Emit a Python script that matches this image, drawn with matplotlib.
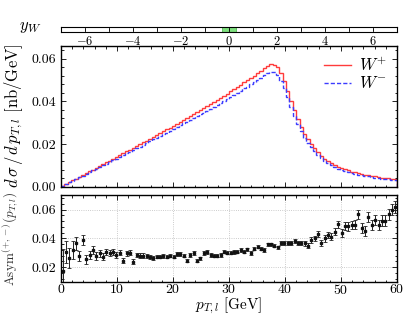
import numpy as np
import matplotlib
matplotlib.use('Agg')
import matplotlib.pyplot as plt
from matplotlib.ticker import MultipleLocator
from matplotlib.patches import Rectangle

plt.rcParams['font.family'] = 'serif'
plt.rcParams['font.serif'] = ['cmr10']
plt.rcParams['mathtext.fontset'] = 'cm'
plt.rcParams['axes.formatter.use_mathtext'] = True

# pT bins: 100 bins of 0.6 GeV from 0 to 60
pt_min, pt_max, n_bins = 0.0, 60.0, 100

# dsigma/dpT for W+ (nb/GeV)
w_plus = [
    0.0004, 0.0013, 0.0021, 0.0030, 0.0038, 0.0047, 0.0055, 0.0063, 0.0072, 0.0080,
    0.0089, 0.0097, 0.0106, 0.0114, 0.0122, 0.0131, 0.0139, 0.0148, 0.0156, 0.0165,
    0.0173, 0.0182, 0.0190, 0.0199, 0.0208, 0.0216, 0.0225, 0.0234, 0.0242, 0.0251,
    0.0260, 0.0268, 0.0277, 0.0286, 0.0295, 0.0304, 0.0313, 0.0322, 0.0331, 0.0340,
    0.0349, 0.0358, 0.0367, 0.0377, 0.0386, 0.0396, 0.0406, 0.0416, 0.0426, 0.0436,
    0.0446, 0.0456, 0.0467, 0.0477, 0.0488, 0.0498, 0.0509, 0.0520, 0.0531, 0.0543,
    0.0555, 0.0566, 0.0575, 0.0572, 0.0558, 0.0532, 0.0495, 0.0450, 0.0402, 0.0357,
    0.0316, 0.0280, 0.0248, 0.0222, 0.0199, 0.0180, 0.0163, 0.0146, 0.0132, 0.0120,
    0.0110, 0.0101, 0.0093, 0.0087, 0.0081, 0.0076, 0.0071, 0.0067, 0.0063, 0.0059,
    0.0056, 0.0053, 0.0050, 0.0048, 0.0045, 0.0043, 0.0041, 0.0039, 0.0037, 0.0035,
]

# dsigma/dpT for W- (nb/GeV)
w_minus = [
    0.0004, 0.0012, 0.0020, 0.0028, 0.0036, 0.0044, 0.0052, 0.0060, 0.0068, 0.0076,
    0.0084, 0.0092, 0.0100, 0.0108, 0.0115, 0.0124, 0.0131, 0.0140, 0.0147, 0.0156,
    0.0164, 0.0172, 0.0180, 0.0188, 0.0197, 0.0204, 0.0213, 0.0221, 0.0229, 0.0237,
    0.0246, 0.0253, 0.0262, 0.0270, 0.0279, 0.0287, 0.0296, 0.0304, 0.0313, 0.0321,
    0.0330, 0.0338, 0.0347, 0.0356, 0.0365, 0.0374, 0.0383, 0.0392, 0.0402, 0.0411,
    0.0420, 0.0430, 0.0440, 0.0449, 0.0460, 0.0469, 0.0479, 0.0489, 0.0499, 0.0510,
    0.0521, 0.0530, 0.0537, 0.0535, 0.0521, 0.0497, 0.0462, 0.0420, 0.0375, 0.0333,
    0.0294, 0.0260, 0.0230, 0.0206, 0.0184, 0.0166, 0.0150, 0.0134, 0.0121, 0.0110,
    0.0100, 0.0092, 0.0085, 0.0079, 0.0073, 0.0069, 0.0064, 0.0060, 0.0057, 0.0053,
    0.0050, 0.0048, 0.0046, 0.0043, 0.0041, 0.0038, 0.0036, 0.0035, 0.0033, 0.0031,
]

# charge asymmetry and its statistical error per bin
asym = [
    0.0175, 0.0304, 0.0262, 0.0320, 0.0366, 0.0278, 0.0389, 0.0255, 0.0283, 0.0320,
    0.0278, 0.0297, 0.0274, 0.0304, 0.0297, 0.0308, 0.0285, 0.0300, 0.0246, 0.0297,
    0.0300, 0.0239, 0.0285, 0.0280, 0.0280, 0.0280, 0.0274, 0.0267, 0.0274, 0.0274,
    0.0280, 0.0274, 0.0280, 0.0274, 0.0290, 0.0292, 0.0280, 0.0246, 0.0285, 0.0297,
    0.0246, 0.0262, 0.0299, 0.0304, 0.0283, 0.0280, 0.0280, 0.0283, 0.0308, 0.0301,
    0.0301, 0.0304, 0.0308, 0.0320, 0.0308, 0.0324, 0.0297, 0.0329, 0.0343, 0.0329,
    0.0320, 0.0359, 0.0359, 0.0350, 0.0338, 0.0370, 0.0370, 0.0366, 0.0370, 0.0384,
    0.0370, 0.0370, 0.0366, 0.0350, 0.0389, 0.0400, 0.0430, 0.0366, 0.0400, 0.0423,
    0.0412, 0.0446, 0.0497, 0.0435, 0.0487, 0.0483, 0.0494, 0.0494, 0.0568, 0.0472,
    0.0449, 0.0552, 0.0494, 0.0529, 0.0494, 0.0522, 0.0524, 0.0568, 0.0600, 0.0620,
]
asym_err = [
    0.0150, 0.0076, 0.0069, 0.0062, 0.0046, 0.0035, 0.0035, 0.0030, 0.0028, 0.0027,
    0.0025, 0.0024, 0.0022, 0.0022, 0.0020, 0.0020, 0.0020, 0.0018, 0.0018, 0.0017,
    0.0017, 0.0016, 0.0016, 0.0015, 0.0015, 0.0014, 0.0014, 0.0014, 0.0013, 0.0013,
    0.0013, 0.0013, 0.0012, 0.0012, 0.0012, 0.0012, 0.0012, 0.0012, 0.0012, 0.0012,
    0.0012, 0.0012, 0.0012, 0.0012, 0.0012, 0.0012, 0.0012, 0.0012, 0.0012, 0.0012,
    0.0012, 0.0012, 0.0012, 0.0012, 0.0012, 0.0012, 0.0012, 0.0012, 0.0012, 0.0012,
    0.0012, 0.0012, 0.0012, 0.0012, 0.0012, 0.0013, 0.0013, 0.0013, 0.0014, 0.0014,
    0.0015, 0.0015, 0.0016, 0.0017, 0.0018, 0.0019, 0.0020, 0.0021, 0.0022, 0.0023,
    0.0024, 0.0025, 0.0026, 0.0027, 0.0028, 0.0029, 0.0030, 0.0031, 0.0032, 0.0033,
    0.0034, 0.0035, 0.0036, 0.0036, 0.0037, 0.0038, 0.0039, 0.0040, 0.0040, 0.0041,
]

# rapidity window of the W
yw_range = (-7, 7)
yw_cut = (-0.3, 0.3)

red = '#ff3b3b'
blue = '#3b3bff'

edges = np.linspace(pt_min, pt_max, n_bins + 1)
centers = 0.5 * (edges[:-1] + edges[1:])

fig = plt.figure(figsize=(4.05, 3.15), dpi=100)

def style(ax):
    ax.tick_params(which='both', direction='in', top=True, right=True,
                   labelsize=10, width=0.6)
    ax.tick_params(which='major', length=3.5)
    ax.tick_params(which='minor', length=1.8)
    for s in ax.spines.values():
        s.set_linewidth(1.0)

# rapidity strip
ax0 = fig.add_axes([0.1506, 0.898, 0.8296, 0.016])
ax0.set_xlim(*yw_range)
ax0.set_ylim(0, 1)
ax0.add_patch(Rectangle((yw_cut[0], 0), yw_cut[1] - yw_cut[0], 1,
                        facecolor='#7ee07e', edgecolor='#40b040', lw=0.5))
ax0.set_yticks([])
ax0.xaxis.set_major_locator(MultipleLocator(2))
ax0.xaxis.set_minor_locator(MultipleLocator(1))
ax0.tick_params(which='both', direction='in', top=True, labelsize=9, pad=2,
                width=0.5, length=3)
for s in ax0.spines.values():
    s.set_linewidth(0.8)
fig.text(0.075, 0.912, r'$y_W$', fontsize=12, ha='center', va='center')

# cross sections
ax1 = fig.add_axes([0.1506, 0.4073, 0.8296, 0.4476])
ax1.stairs(w_plus, edges, color=red, lw=1.0, label=r'$W^{+}$')
ax1.stairs(w_minus, edges, color=blue, lw=1.0, ls=(0, (3, 1.5)), label=r'$W^{-}$')
ax1.set_xlim(pt_min, pt_max)
ax1.set_ylim(0, 0.066)
ax1.set_yticks([0.0, 0.02, 0.04, 0.06])
ax1.set_yticklabels(['0.00', '0.02', '0.04', '0.06'])
ax1.xaxis.set_major_locator(MultipleLocator(10))
ax1.xaxis.set_minor_locator(MultipleLocator(2))
ax1.yaxis.set_minor_locator(MultipleLocator(0.004))
ax1.tick_params(labelbottom=False)
style(ax1)
ax1.set_ylabel(r'$d\,\sigma\,/\,d\,p_{T,l}$ [nb/GeV]', fontsize=12)
ax1.yaxis.set_label_coords(-0.108, 0.5)
ax1.legend(loc='upper right', frameon=False, fontsize=12, handlelength=1.6,
           handletextpad=0.5, labelspacing=0.1, borderaxespad=0.2)

# asymmetry
ax2 = fig.add_axes([0.1506, 0.1063, 0.8296, 0.2737])
ax2.errorbar(centers, asym, yerr=asym_err, fmt='s', ms=1.6, color='#111111',
             ecolor='#222222', elinewidth=0.7, capsize=1.3, capthick=0.6)
ax2.set_xlim(pt_min, pt_max)
ax2.set_ylim(0.01, 0.07)
ax2.set_yticks([0.02, 0.04, 0.06])
ax2.set_yticklabels(['0.02', '0.04', '0.06'])
ax2.xaxis.set_major_locator(MultipleLocator(10))
ax2.xaxis.set_minor_locator(MultipleLocator(2))
ax2.yaxis.set_minor_locator(MultipleLocator(0.004))
ax2.grid(True, which='major', ls=':', color='#bbbbbb', lw=0.6)
style(ax2)
ax2.tick_params(axis='x', pad=1)
ax2.set_ylabel(r'Asym$^{(+,-)}(p_{T,l})$', fontsize=9.5, color='#333333')
ax2.yaxis.set_label_coords(-0.118, 0.5)
ax2.set_xlabel(r'$p_{T,l}$ [GeV]', fontsize=11)
ax2.xaxis.set_label_coords(0.5, -0.165)

fig.savefig('out.png', dpi=100)
